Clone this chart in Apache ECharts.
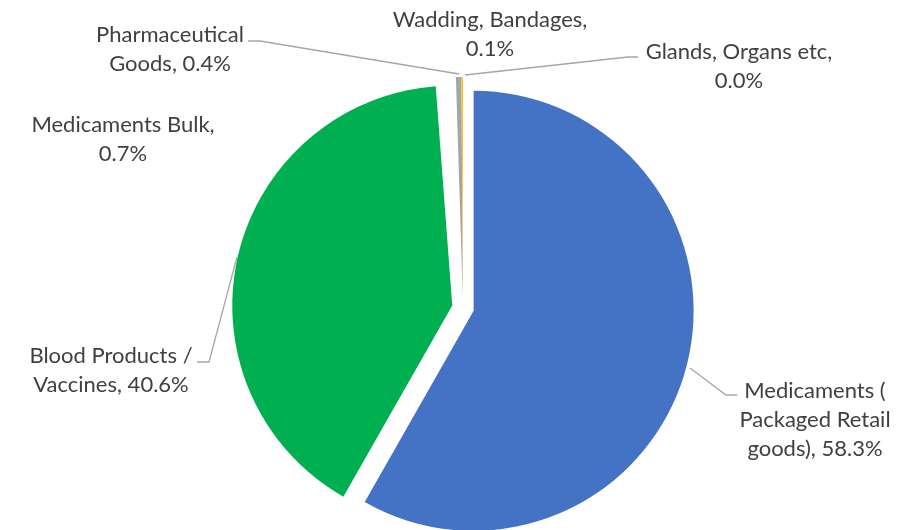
<!DOCTYPE html>
<html>
<head>
<meta charset="utf-8">
<script src="https://cdn.jsdelivr.net/npm/echarts@6/dist/echarts.min.js"></script>
<style>
  html, body { margin: 0; padding: 0; background: #fff; }
  #main { width: 918px; height: 530px; }
</style>
</head>
<body>
<div id="main"></div>
<script>
// categories and values (percent share)
const names = ['Medicaments ( Packaged Retail goods)', 'Blood Products / Vaccines', 'Medicaments Bulk',
  'Pharmaceutical Goods', 'Wadding, Bandages', 'Glands, Organs etc']
const values = [58.3, 40.6, 0.7, 0.4, 0.1, 0.0]
// label text as wrapped in the chart, {v} is the value
const labelText = ['Medicaments (\nPackaged Retail\ngoods), {v}%', 'Blood Products /\nVaccines, {v}%',
  'Medicaments Bulk,\n{v}%', 'Pharmaceutical\nGoods, {v}%', 'Wadding, Bandages,\n{v}%', 'Glands, Organs etc,\n{v}%']
const colors = ['#4472C4', '#00B050', 'rgba(0,0,0,0)', '#A5A5A5', '#FFC000', '#5B9BD5']

// where each label sits, and its leader line (null = no line)
const labelPos = [
  { x: 815, y: 420, line: [[690, 368], [726, 395], [737, 395]] },
  { x: 111, y: 370, line: [[237, 257], [209, 362], [197, 362]] },
  { x: 123, y: 139, line: null },
  { x: 170, y: 49, line: [[459, 74], [260, 41], [248, 41]] },
  { x: 490, y: 34, line: null },
  { x: 739, y: 66, line: [[465, 75], [628, 57], [638, 57]] }
]

var chart = echarts.init(document.getElementById('main'))
var pieBase = {
  type: 'pie',
  center: [463, 308],
  radius: 220,
  startAngle: 90,
  clockwise: true,
  avoidLabelOverlap: false,
  emphasis: { disabled: true }
}
var option = {
  animation: false,
  series: [
    // exploded slices
    Object.assign({}, pieBase, {
      selectedMode: 'multiple',
      selectedOffset: 11,
      label: { show: false },
      labelLine: { show: false },
      data: names.map((n, i) => ({
        name: n,
        value: values[i],
        selected: true,
        itemStyle: { color: colors[i] }
      }))
    }),
    // labels only (same pie, no fill)
    Object.assign({}, pieBase, {
      silent: true,
      label: {
        show: true,
        position: 'outside',
        fontFamily: 'Lato',
        fontSize: 22,
        lineHeight: 29,
        color: '#404040',
        align: 'center',
        formatter: (p) => labelText[p.dataIndex].replace('{v}', p.value.toFixed(1))
      },
      labelLine: {
        show: true,
        lineStyle: { color: '#A6A6A6', width: 1.3 }
      },
      labelLayout: (params) => {
        let pos = labelPos[params.dataIndex]
        let res = { x: pos.x, y: pos.y, align: 'center', verticalAlign: 'middle' }
        if (pos.line) res.labelLinePoints = pos.line
        return res
      },
      data: names.map((n, i) => ({
        name: n,
        value: values[i],
        itemStyle: { color: 'rgba(0,0,0,0)' },
        labelLine: { show: !!labelPos[i].line }
      }))
    })
  ]
}
chart.setOption(option)
</script>
</body>
</html>
